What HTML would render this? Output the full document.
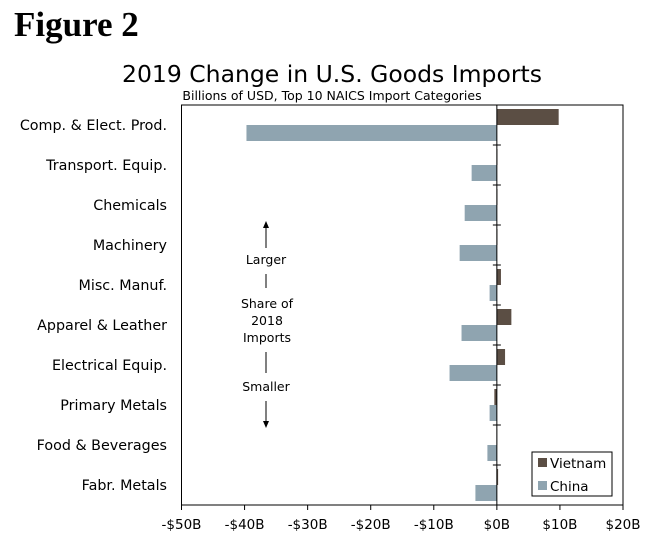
<!DOCTYPE html>
<html><head><meta charset="utf-8"><style>
body{margin:0;background:#fff;width:665px;height:546px;overflow:hidden;font-family:"DejaVu Sans","Liberation Sans",sans-serif}
</style></head><body>
<svg width="665" height="546" xmlns="http://www.w3.org/2000/svg">
<text x="14" y="36" font-family="Liberation Serif,serif" font-weight="bold" font-size="35">Figure 2</text>
<text x="332" y="82" text-anchor="middle" font-size="23.5">2019 Change in U.S. Goods Imports</text>
<text x="332" y="100" text-anchor="middle" font-size="12.5">Billions of USD, Top 10 NAICS Import Categories</text>
<g id="plot"></g>
<g font-size="12.5" text-anchor="middle" fill="#000">
<line x1="266" y1="248" x2="266" y2="226" stroke="#000"/><polygon points="263,228 269,228 266,221"/>
<text x="266" y="264">Larger</text>
<line x1="266" y1="274" x2="266" y2="288" stroke="#000"/>
<text x="267" y="308">Share of</text><text x="267" y="325">2018</text><text x="267" y="342">Imports</text>
<line x1="266" y1="352" x2="266" y2="373" stroke="#000"/>
<text x="266" y="391">Smaller</text>
<line x1="266" y1="401" x2="266" y2="422" stroke="#000"/><polygon points="263,421 269,421 266,428"/>
</g>
<g>
<rect x="532" y="452" width="80" height="44" fill="#fff" stroke="#000"/>
<rect x="538" y="458" width="9" height="9" fill="#5b4e44"/><text x="550" y="468" font-size="13.5">Vietnam</text>
<rect x="538" y="481" width="9" height="9" fill="#8fa4b0"/><text x="550" y="491" font-size="13.5">China</text>
</g>
</svg>
<script>
const categories=["Comp. & Elect. Prod.","Transport. Equip.","Chemicals","Machinery","Misc. Manuf.","Apparel & Leather","Electrical Equip.","Primary Metals","Food & Beverages","Fabr. Metals"];
const vietnam=[9.8,0.1,0.1,0.1,0.65,2.3,1.3,-0.4,0.05,0.2];
const china=[-39.7,-4.0,-5.1,-5.9,-1.15,-5.6,-7.5,-1.15,-1.5,-3.4];
const xTicks=[-50,-40,-30,-20,-10,0,10,20];
const xTickLabels=["-$50B","-$40B","-$30B","-$20B","-$10B","$0B","$10B","$20B"];
const L=181.5,R=623,T=105,B=505,xmin=-50,xmax=20;
const x=v=>L+(v-xmin)/(xmax-xmin)*(R-L);
const rowH=(B-T)/categories.length;
const y=i=>T+i*rowH;
const g=document.getElementById('plot');const NS="http://www.w3.org/2000/svg";
function mk(t,a){const e=document.createElementNS(NS,t);for(const k in a)e.setAttribute(k,a[k]);g.appendChild(e);return e;}
categories.forEach((c,i)=>{
 const v=vietnam[i],ch=china[i];
 let r=mk('rect',{x:Math.min(x(0),x(v)),y:y(i)+4,width:Math.abs(x(v)-x(0)),height:16,fill:'#5b4e44'});
 
 
 r=mk('rect',{x:Math.min(x(0),x(ch)),y:y(i)+20,width:Math.abs(x(ch)-x(0)),height:16,fill:'#8fa4b0'});
 
 
 const t=mk('text',{x:167,y:y(i)+25,'text-anchor':'end','font-size':14.3});t.textContent=c;
 
 
 if(i>0){mk('line',{x1:x(0)-4,x2:x(0)+4,y1:y(i),y2:y(i),stroke:'#000'});}
});
const fr=mk('rect',{x:L,y:T,width:R-L,height:B-T,fill:'none',stroke:'#000'});


mk('line',{x1:x(0),x2:x(0),y1:T,y2:B,stroke:'#000'});
xTicks.forEach((v,i)=>{
 mk('line',{x1:x(v),x2:x(v),y1:B,y2:B+5,stroke:'#000'});
 const t=mk('text',{x:x(v),y:529,'text-anchor':'middle','font-size':13.5});t.textContent=xTickLabels[i];
 
 
});
</script>
</body></html>
